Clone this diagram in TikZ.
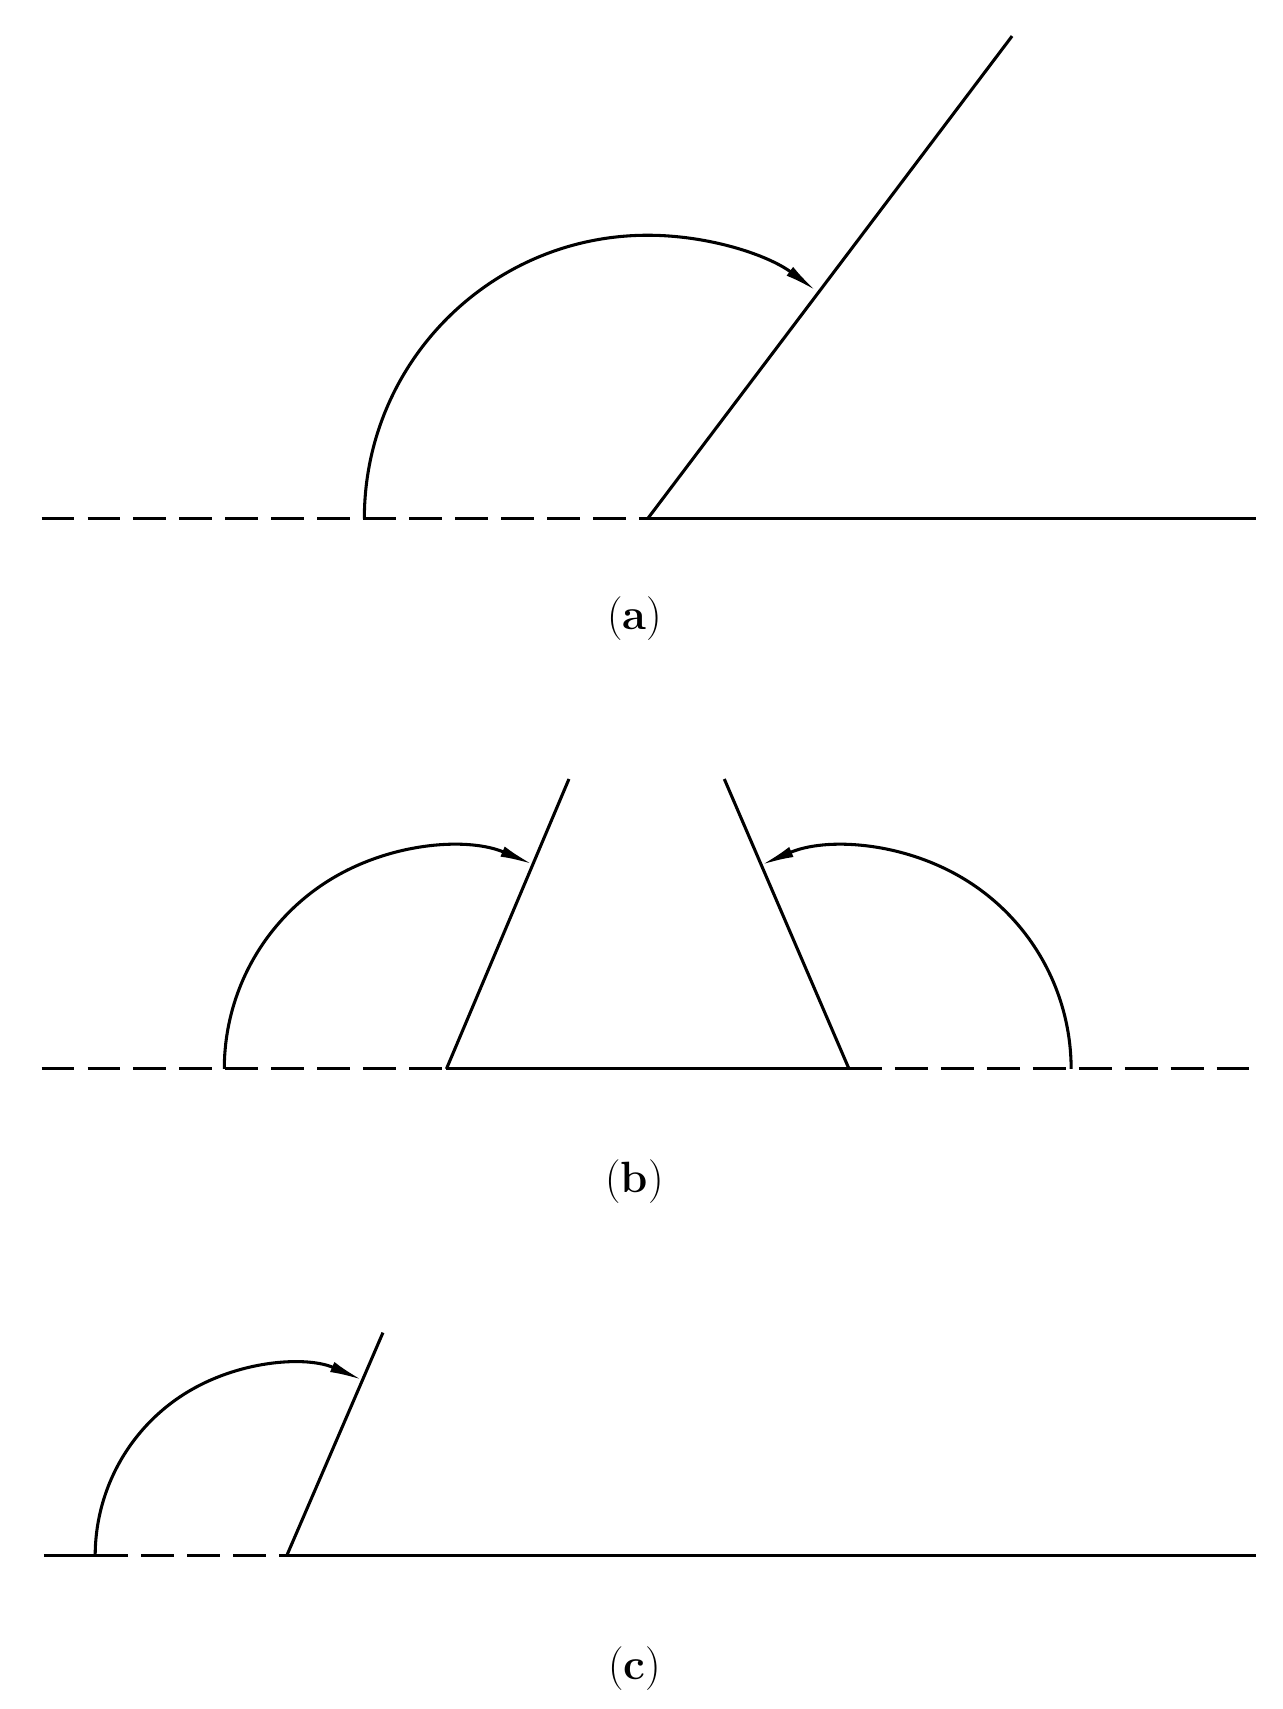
\documentclass[tikz,border=0pt]{standalone}
\usetikzlibrary{arrows.meta}
\begin{document}
\begin{tikzpicture}[x=1pt,y=-1pt,
  ln/.style={line width=2.8pt},
  dsh/.style={ln,dash pattern=on 30pt off 12pt},
  arc/.style={ln,-{Latex[length=30pt,width=10pt]}},
  lab/.style={font=\fontsize{40}{46}\selectfont}]
\useasboundingbox (0,0) rectangle (1172,1562);
% (a)
\coordinate (av) at (592,474);
\coordinate (al) at (38,474);
\coordinate (ar) at (1148,474);
\coordinate (at) at (925,33);
\draw[dsh] (al) -- (av);
\draw[ln] (av) -- (ar);
\draw[ln] (av) -- (at);
\draw[arc] (333,474) arc[start angle=180,end angle=306.5,radius=259];
\node[lab] (la) at (580,565) {(\textbf{a})};
% (b)
\coordinate (bv1) at (408,977);
\coordinate (bv2) at (776,977);
\coordinate (bl) at (38,977);
\coordinate (br) at (1148,977);
\coordinate (bt1) at (520,712);
\coordinate (bt2) at (662,712);
\draw[dsh] (bl) -- (bv1);
\draw[ln] (bv1) -- (bv2);
\draw[dsh] (bv2) -- (br);
\draw[ln] (bv1) -- (bt1);
\draw[ln] (bv2) -- (bt2);
\draw[arc] (205,977) arc[start angle=180,end angle=292.9,radius=203];
\draw[arc] (979,977) arc[start angle=0,end angle=-113.3,radius=203];
\node[lab] (lb) at (580,1080) {(\textbf{b})};
% (c)
\coordinate (cv) at (262,1422);
\coordinate (cl) at (40,1422);
\coordinate (cr) at (1148,1422);
\coordinate (ct) at (350,1218);
\draw[ln] (cl) -- (87,1422);
\draw[dsh] (87,1422) -- (cv);
\draw[ln] (cv) -- (cr);
\draw[ln] (cv) -- (ct);
\draw[arc] (87,1422) arc[start angle=180,end angle=293.3,radius=175];
\node[lab] (lc) at (580,1525) {(\textbf{c})};
\end{tikzpicture}
\end{document}
